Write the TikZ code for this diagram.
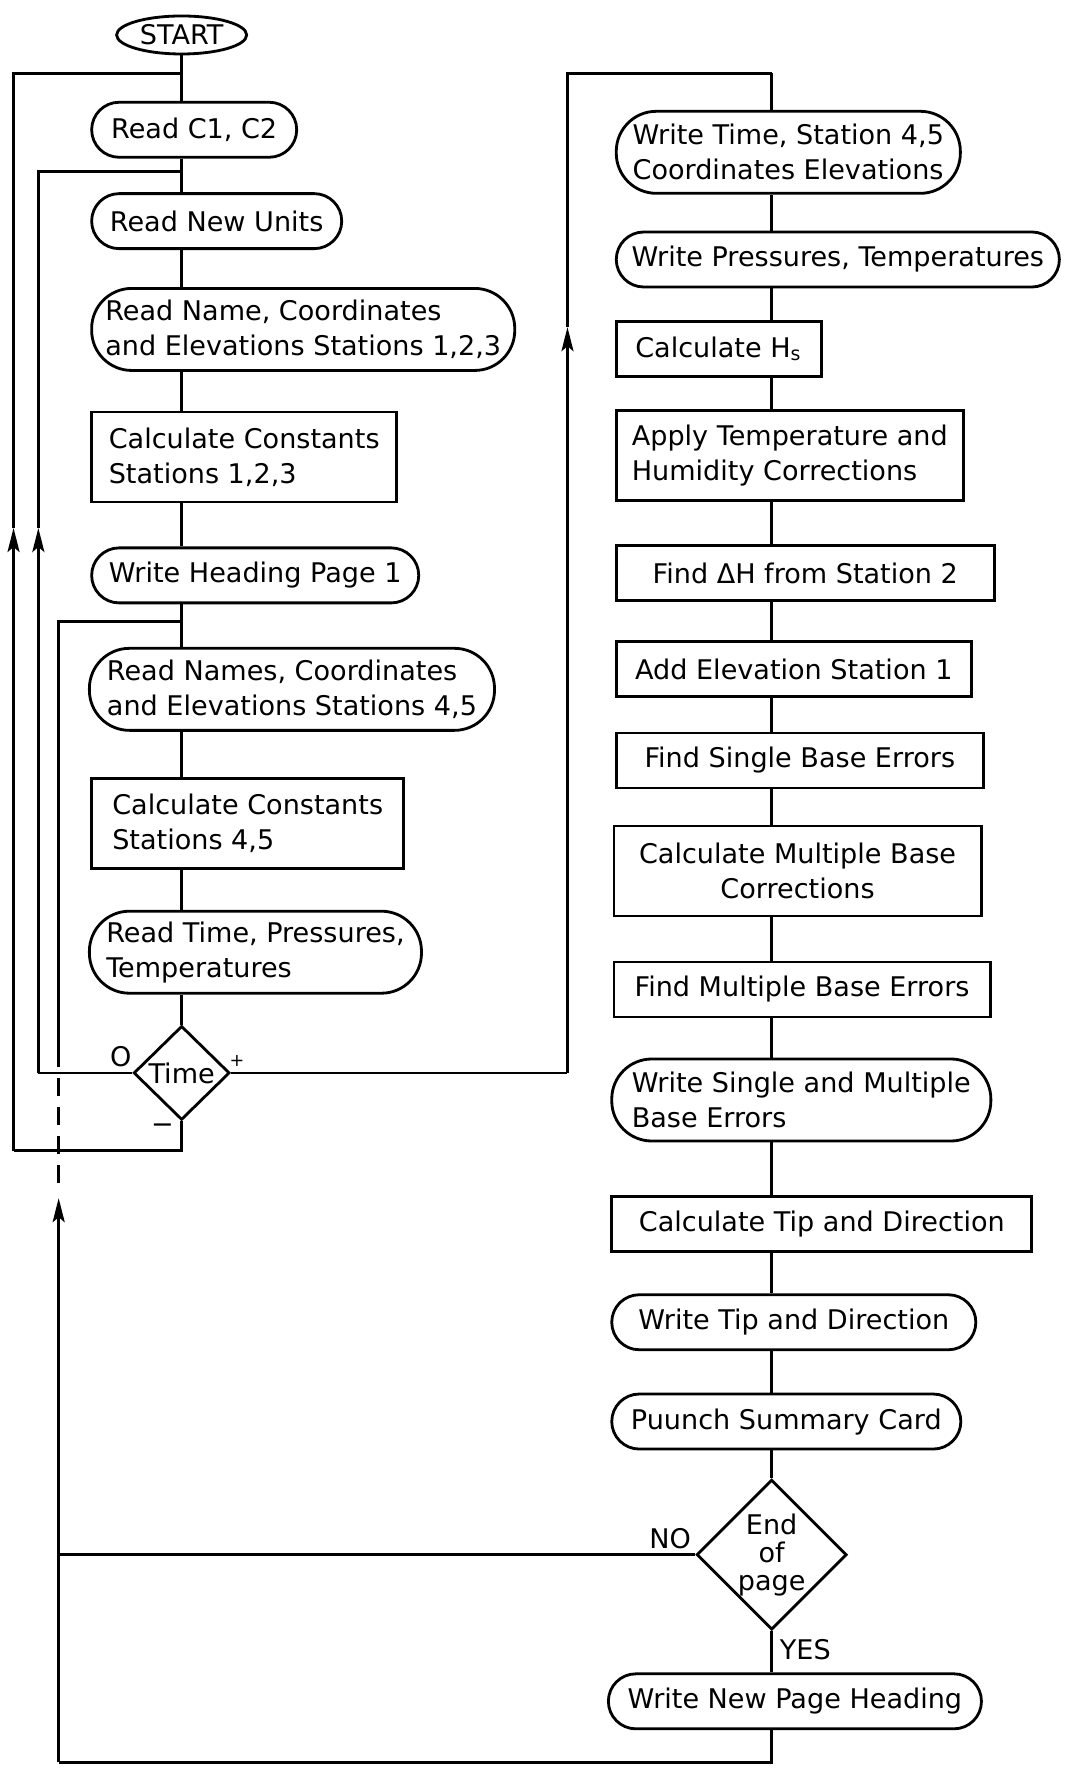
\documentclass[tikz,border=0pt]{standalone}
\usepackage{fontspec}
\setmainfont{DejaVu Sans}
\usetikzlibrary{shapes.geometric, arrows.meta}

\begin{document}
\begin{tikzpicture}[
    x=0.1128mm, y=-0.1128mm,
    >={Stealth[length=2.4mm, width=1.2mm, inset=0.5mm]},
    line width=0.8pt,
    font=\fontsize{7.7}{10}\selectfont,
    box/.style={draw, rectangle, inner xsep=0.8mm, inner ysep=1mm, minimum height=5.5mm, align=left, anchor=west},
    tallbox/.style={box, minimum height=9mm},
    pill/.style={box, rounded corners=2.75mm},
    tallpill/.style={box, rounded corners=4mm, minimum height=8.2mm},
    decision/.style={draw, diamond, inner sep=0pt, align=center},
    terminal/.style={draw, ellipse, inner sep=0pt, minimum width=13mm, minimum height=3.8mm},
    tag/.style={inner sep=0pt}
]
    \useasboundingbox (0,0) rectangle (945,1568);

    % trunks
    \coordinate (ltrunk) at (161,0);
    \coordinate (rtrunk) at (684,0);

    % Left column
    \node[terminal] (start) at (161,31) {START};
    \node[pill, minimum width=20.5mm] (readc) at (80,115) {Read C1, C2};
    \node[pill, minimum width=25mm] (units) at (80,196) {Read New Units};
    \node[tallpill, minimum width=42.3mm] (namesa) at (80,292) {Read Name, Coordinates\\and Elevations Stations 1,2,3};
    \node[tallbox, minimum width=30.5mm] (consta) at (80,405) {Calculate Constants\\Stations 1,2,3};
    \node[pill, minimum width=32.7mm] (heading) at (80,510) {Write Heading Page 1};
    \node[tallpill, minimum width=40.5mm] (namesb) at (78,611) {Read Names, Coordinates\\and Elevations Stations 4,5};
    \node[tallbox, minimum width=31.2mm] (constb) at (80,730) {Calculate Constants\\Stations 4,5};
    \node[tallpill, minimum width=33.2mm] (readtime) at (78,844) {Read Time, Pressures,\\Temperatures};
    \node[decision, minimum width=9.6mm, minimum height=9.4mm] (time) at (161,951) {Time};

    \draw (start) -- (start |- readc.north);
    \draw (readc.south -| ltrunk) -- (units.north -| ltrunk);
    \draw (units.south -| ltrunk) -- (namesa.north -| ltrunk);
    \draw (namesa.south -| ltrunk) -- (consta.north -| ltrunk);
    \draw (consta.south -| ltrunk) -- (heading.north -| ltrunk);
    \draw (heading.south -| ltrunk) -- (namesb.north -| ltrunk);
    \draw (namesb.south -| ltrunk) -- (constb.north -| ltrunk);
    \draw (constb.south -| ltrunk) -- (readtime.north -| ltrunk);
    \draw (readtime.south -| ltrunk) -- (time.north);

    % Time branches
    \node[tag] (zerotag) at (107,937) {O};
    \node[tag, font=\fontsize{5}{6}\selectfont] (plustag) at (210,940) {+};
    \node[tag] (minustag) at (144,1000) {−};

    \coordinate (mcorner) at (12,1020);
    \coordinate (marrow) at (12,468);
    \coordinate (mtop) at (12,65);
    \draw (time.south) |- (mcorner);
    \draw[->] (mcorner) -- (marrow);
    \draw (marrow) -- (mtop) -- (mtop -| ltrunk);

    \coordinate (zcorner) at (34,951);
    \coordinate (zarrow) at (34,468);
    \coordinate (ztop) at (34,152);
    \draw (time.west) -- (zcorner);
    \draw[->] (zcorner) -- (zarrow);
    \draw (zarrow) -- (ztop) -- (ztop -| ltrunk);

    \coordinate (pcorner) at (503,951);
    \coordinate (parrow) at (503,290);
    \coordinate (ptop) at (503,65);
    \draw (time.east) -- (pcorner);
    \draw[->] (pcorner) -- (parrow);
    \draw (parrow) -- (ptop) -- (ptop -| rtrunk);

    % Right column
    \node[tallpill, minimum width=34.4mm] (wtime) at (545,135) {Write Time, Station 4,5\\Coordinates Elevations};
    \node[pill, minimum width=44.3mm] (wpress) at (545,230) {Write Pressures, Temperatures};
    \node[box, minimum width=20.5mm] (calchs) at (545,309) {Calculate H\textsubscript{s}};
    \node[tallbox, minimum width=34.7mm] (apply) at (545,404) {Apply Temperature and\\Humidity Corrections};
    \node[box, minimum width=37.8mm] (finddh) at (545,508) {Find ΔH from Station 2};
    \node[box, minimum width=35.5mm] (addelev) at (545,593) {Add Elevation Station 1};
    \node[box, minimum width=36.7mm] (findsingle) at (545,674) {Find Single Base Errors};
    \node[tallbox, minimum width=36.7mm, align=center] (calcmult) at (543,772) {Calculate Multiple Base\\Corrections};
    \node[box, minimum width=37.6mm] (findmult) at (543,877) {Find Multiple Base Errors};
    \node[tallpill, minimum width=37.9mm] (wsingle) at (541,975) {Write Single and Multiple\\Base Errors};
    \node[box, minimum width=42mm] (calctip) at (541,1085) {Calculate Tip and Direction};
    \node[pill, minimum width=36.4mm] (wtip) at (541,1172) {Write Tip and Direction};
    \node[pill, minimum width=34.9mm] (punch) at (541,1260) {Puunch Summary Card};
    \node[decision, font=\fontsize{7.7}{8}\selectfont, minimum width=14.4mm, minimum height=14.1mm] (endpage) at (684,1378) {End\\of\\page};
    \node[pill, minimum width=37.3mm] (newpage) at (538,1508) {Write New Page Heading};

    \draw (ptop -| rtrunk) -- (wtime.north -| rtrunk);
    \draw (wtime.south -| rtrunk) -- (wpress.north -| rtrunk);
    \draw (wpress.south -| rtrunk) -- (calchs.north -| rtrunk);
    \draw (calchs.south -| rtrunk) -- (apply.north -| rtrunk);
    \draw (apply.south -| rtrunk) -- (finddh.north -| rtrunk);
    \draw (finddh.south -| rtrunk) -- (addelev.north -| rtrunk);
    \draw (addelev.south -| rtrunk) -- (findsingle.north -| rtrunk);
    \draw (findsingle.south -| rtrunk) -- (calcmult.north -| rtrunk);
    \draw (calcmult.south -| rtrunk) -- (findmult.north -| rtrunk);
    \draw (findmult.south -| rtrunk) -- (wsingle.north -| rtrunk);
    \draw (wsingle.south -| rtrunk) -- (calctip.north -| rtrunk);
    \draw (calctip.south -| rtrunk) -- (wtip.north -| rtrunk);
    \draw (wtip.south -| rtrunk) -- (punch.north -| rtrunk);
    \draw (punch.south -| rtrunk) -- (endpage.north);
    \draw (endpage.south) -- (newpage.north -| rtrunk);

    % End of page branches
    \node[tag] (notag) at (594,1364) {NO};
    \node[tag, anchor=west] (yestag) at (690,1462) {YES};

    % Return to next page
    \coordinate (bcorner) at (52,1562);
    \coordinate (barrow) at (52,1062);
    \coordinate (dashlow) at (52,1049);
    \coordinate (dashhigh) at (52,933);
    \coordinate (htop) at (52,551);
    \draw (newpage.south -| rtrunk) |- (bcorner);
    \draw[->] (bcorner) -- (barrow);
    \draw[dash pattern=on 1.8mm off 1.1mm] (dashlow) -- (dashhigh);
    \draw (dashhigh) -- (htop) -- (htop -| ltrunk);
    \draw (endpage.west) -- (endpage.west -| bcorner);

\end{tikzpicture}
\end{document}
